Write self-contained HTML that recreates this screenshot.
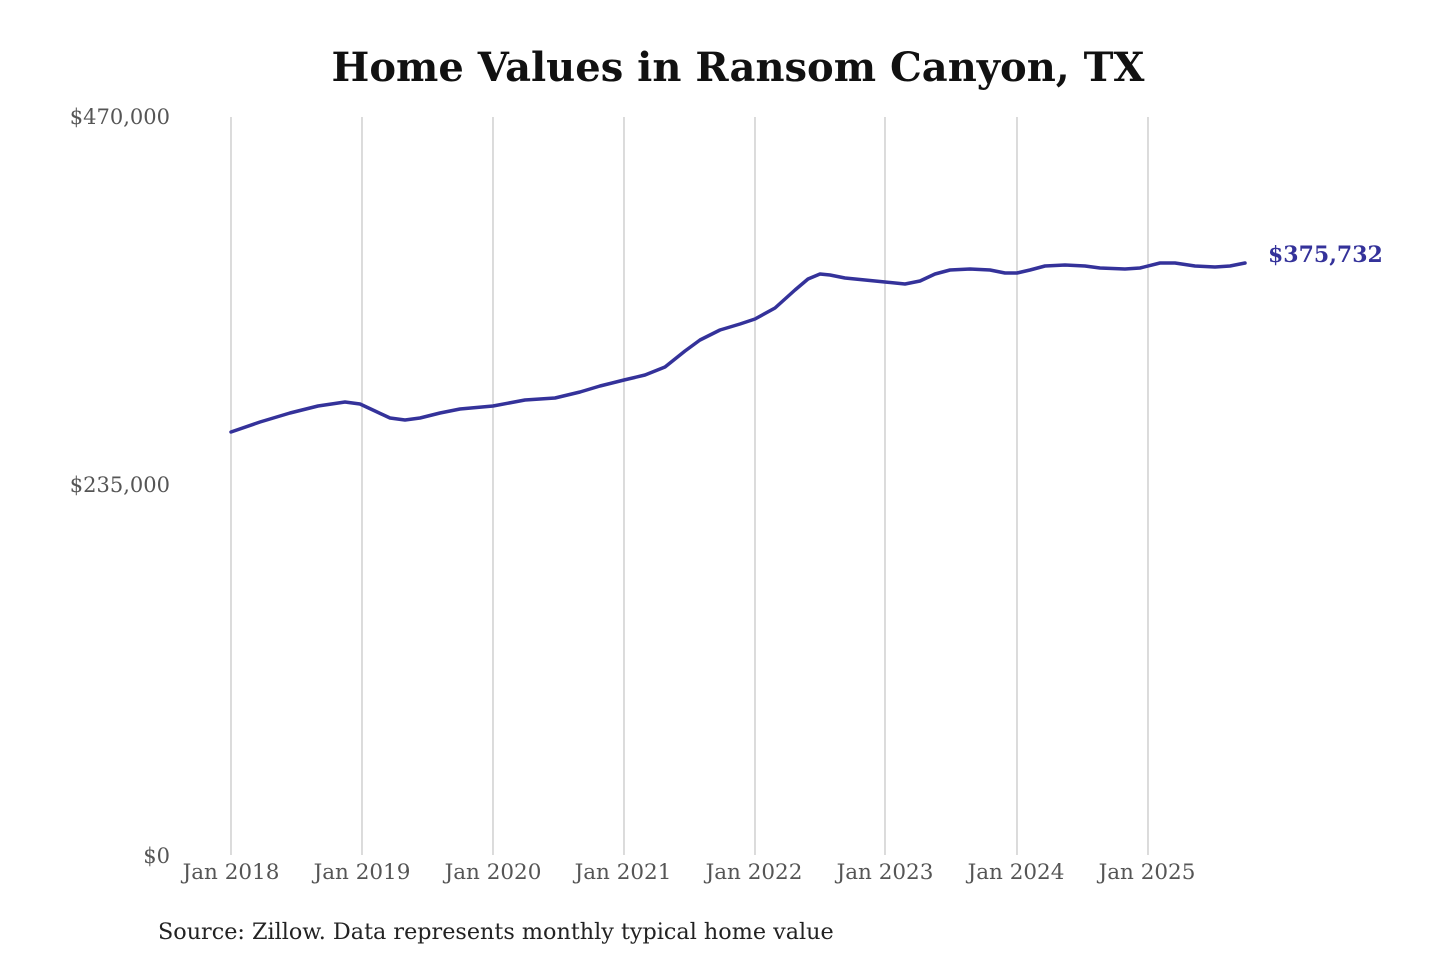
<!DOCTYPE html>
<html><head><meta charset="utf-8"><style>
html,body{margin:0;padding:0;background:#fff;width:1440px;height:960px;overflow:hidden}
svg{display:block}
</style></head><body>
<svg width="1440" height="960" viewBox="0 0 1440 960" xmlns="http://www.w3.org/2000/svg">
<text x="738" y="81" text-anchor="middle" font-family="'DejaVu Serif',serif" font-weight="bold" font-size="40" fill="#111">Home Values in Ransom Canyon, TX</text>
<g stroke="#c8c8c8" stroke-width="1.3">
<line x1="231" y1="117" x2="231" y2="855"/><line x1="362" y1="117" x2="362" y2="855"/>
<line x1="493" y1="117" x2="493" y2="855"/><line x1="624" y1="117" x2="624" y2="855"/>
<line x1="755" y1="117" x2="755" y2="855"/><line x1="885" y1="117" x2="885" y2="855"/>
<line x1="1017" y1="117" x2="1017" y2="855"/><line x1="1148" y1="117" x2="1148" y2="855"/>
</g>
<g font-family="'DejaVu Serif',serif" font-size="21" fill="#555" text-anchor="end">
<text x="170" y="124">$470,000</text>
<text x="170" y="492">$235,000</text>
<text x="170" y="863">$0</text>
</g>
<g font-family="'DejaVu Serif',serif" font-size="21.5" fill="#555" text-anchor="middle">
<text x="231" y="879">Jan 2018</text><text x="362" y="879">Jan 2019</text>
<text x="493" y="879">Jan 2020</text><text x="623" y="879">Jan 2021</text>
<text x="754" y="879">Jan 2022</text><text x="885" y="879">Jan 2023</text>
<text x="1016" y="879">Jan 2024</text><text x="1147" y="879">Jan 2025</text>
</g>
<polyline fill="none" stroke="#34329a" stroke-width="3.5" stroke-linejoin="round" stroke-linecap="round"
points="231,432 260,422 290,413 318,406 345,402 360,404 375,411 390,418 405,420 420,418 440,413 460,409 493,406 525,400 555,398 580,392 600,386 624,380 645,375 665,367 685,351 700,340 720,330 740,324 755,319 775,308 795,290 808,279 820,274 830,275 845,278 865,280 885,282 905,284 920,281 935,274 950,270 970,269 990,270 1005,273 1017,273 1030,270 1045,266 1065,265 1085,266 1100,268 1125,269 1140,268 1160,263 1175,263 1195,266 1215,267 1230,266 1245,263"/>
<text x="1268" y="262" font-family="'DejaVu Serif',serif" font-weight="bold" font-size="22" fill="#34329a">$375,732</text>
<text x="158" y="939" font-family="'DejaVu Serif',serif" font-size="22.3" fill="#222">Source: Zillow. Data represents monthly typical home value</text>
</svg>
</body></html>
